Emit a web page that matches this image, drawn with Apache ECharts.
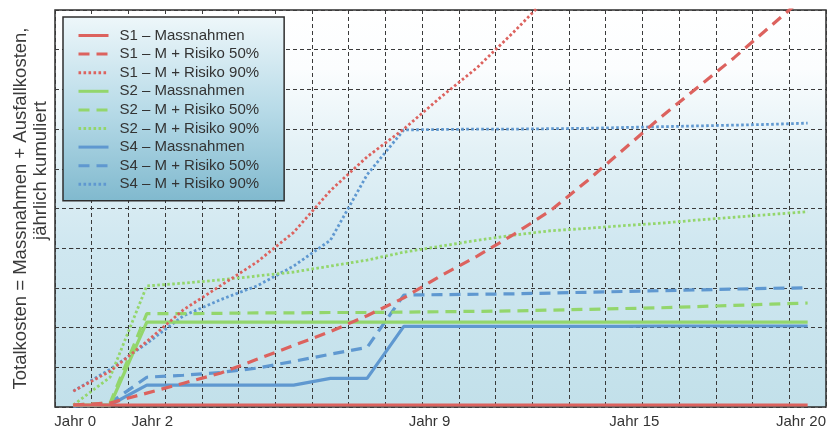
<!DOCTYPE html>
<html>
<head>
<meta charset="utf-8">
<script src="https://cdn.jsdelivr.net/npm/echarts@6/dist/echarts.min.js"></script>
<style>
html,body{margin:0;padding:0;background:#ffffff;}
#chart{width:831px;height:433px;}
</style>
</head>
<body>
<div id="chart"></div>
<script>
// Categories: years 0..20
const years = ['0','1','2','3','4','5','6','7','8','9','10','11','12','13','14','15','16','17','18','19','20'];

// Tick labels and the year positions where they are printed
const tickLabels = ['Jahr 0', 'Jahr 2', 'Jahr 9', 'Jahr 15', 'Jahr 20'];
const tickLabelAt = [0.05, 2.15, 9.7, 15.28, 19.82];

// Series values (grid units, 10 divisions)
const s1Massnahmen = [0.05,0.05,0.05,0.05,0.05,0.05,0.05,0.05,0.05,0.05,0.05,0.05,0.05,0.05,0.05,0.05,0.05,0.05,0.05,0.05,0.05];
const s1Risiko50   = [0.05,0.1,0.35,0.6,0.85,1.2,1.55,1.9,2.3,2.75,3.3,3.8,4.35,4.95,5.7,6.5,7.3,8.05,8.8,9.6,10.4];
const s1Risiko90   = [0.4,0.9,1.65,2.45,3.05,3.65,4.4,5.45,6.3,7.0,7.8,8.55,9.45,10.4];
const s2Massnahmen = [0.05,0.05,2.14,2.14,2.14,2.14,2.14,2.14,2.14,2.14,2.14,2.14,2.14,2.14,2.14,2.14,2.14,2.14,2.14,2.14,2.14];
const s2Risiko50   = [0.05,0.1,2.35,2.35,2.36,2.37,2.37,2.38,2.38,2.39,2.4,2.41,2.42,2.44,2.46,2.48,2.5,2.53,2.56,2.59,2.62];
const s2Risiko90   = [0.05,0.75,3.05,3.12,3.2,3.3,3.4,3.55,3.7,3.9,4.05,4.2,4.33,4.44,4.5,4.57,4.63,4.71,4.78,4.85,4.92];
const s4Massnahmen = [0.03,0.05,0.55,0.55,0.55,0.55,0.55,0.72,0.72,2.03,2.03,2.03,2.03,2.03,2.03,2.03,2.04,2.04,2.04,2.04,2.04];
const s4Risiko50   = [0.03,0.1,0.75,0.8,0.87,0.98,1.15,1.33,1.5,2.82,2.83,2.84,2.85,2.87,2.89,2.91,2.93,2.95,2.97,2.99,3.0];
const s4Risiko90   = [0.4,0.95,1.6,2.3,2.7,3.05,3.55,4.2,5.85,6.98,6.99,7.0,7.0,7.01,7.02,7.04,7.06,7.08,7.1,7.12,7.15];

const seriesNames = [
  'S1 – Massnahmen','S1 – M + Risiko 50%','S1 – M + Risiko 90%',
  'S2 – Massnahmen','S2 – M + Risiko 50%','S2 – M + Risiko 90%',
  'S4 – Massnahmen','S4 – M + Risiko 50%','S4 – M + Risiko 90%'
];

const RED = '#dc625e', GREEN = '#93d66c', BLUE = '#5f98d0';
const DASH = [11, 7], DOT = [2.6, 2.4];
const FONT = 'Liberation Sans, Arial, Helvetica, sans-serif';

function mk(name, data, color, type, width) {
  return {
    name: name, type: 'line', data: data, xAxisIndex: 0, yAxisIndex: 0,
    symbol: 'none', showSymbol: false, silent: true, clip: true,
    lineStyle: { color: color, type: type, width: width, cap: 'butt' },
    itemStyle: { color: color }
  };
}

const series = [
  mk(seriesNames[8], s4Risiko90, BLUE, DOT, 2.8),
  mk(seriesNames[7], s4Risiko50, BLUE, DASH, 3.2),
  mk(seriesNames[6], s4Massnahmen, BLUE, 'solid', 3.2),
  mk(seriesNames[5], s2Risiko90, GREEN, DOT, 2.8),
  mk(seriesNames[4], s2Risiko50, GREEN, DASH, 3.2),
  mk(seriesNames[3], s2Massnahmen, GREEN, 'solid', 3.2),
  mk(seriesNames[2], s1Risiko90, RED, DOT, 2.8),
  mk(seriesNames[1], s1Risiko50, RED, DASH, 3.2),
  mk(seriesNames[0], s1Massnahmen, RED, 'solid', 3.2)
];

const chart = echarts.init(document.getElementById('chart'), null, { renderer: 'canvas' });
chart.setOption({
  animation: false,
  backgroundColor: '#ffffff',
  textStyle: { fontFamily: FONT },
  grid: {
    left: 55, right: 5, top: 10, bottom: 26, show: true,
    borderColor: '#2e2e2e', borderWidth: 1.5,
    backgroundColor: new echarts.graphic.LinearGradient(0, 0, 0, 1, [
      { offset: 0, color: '#ffffff' },
      { offset: 0.15, color: '#fbfdfe' },
      { offset: 0.35, color: '#e3f1f6' },
      { offset: 0.6, color: '#cfe7f0' },
      { offset: 1, color: '#c2e0ea' }
    ])
  },
  legend: {
    data: seriesNames,
    orient: 'vertical', left: 63, top: 17,
    padding: [11, 25, 9, 14],
    itemWidth: 30, itemHeight: 14, itemGap: 3.6,
    selectedMode: false,
    itemStyle: { color: 'rgba(0,0,0,0)', borderWidth: 0, opacity: 0 },
    lineStyle: { width: 3 },
    backgroundColor: new echarts.graphic.LinearGradient(0, 0, 0, 1, [
      { offset: 0, color: '#eef7fa' },
      { offset: 0.5, color: '#b8dbe8' },
      { offset: 1, color: '#80b9ce' }
    ]),
    borderColor: '#2e2e2e', borderWidth: 1.5,
    textStyle: { fontSize: 15, color: '#333333', fontFamily: FONT, padding: [0, 0, 0, 6] }
  },
  xAxis: [
    {
      type: 'category', data: years, boundaryGap: true,
      axisLine: { show: false }, axisTick: { show: false }, axisLabel: { show: false },
      splitLine: { show: true, interval: 0, lineStyle: { type: [4, 3], color: '#3a3a3a', width: 1 } }
    },
    {
      type: 'value', min: -0.5, max: 20.5, position: 'bottom',
      axisLine: { show: false }, axisTick: { show: false }, splitLine: { show: false },
      axisLabel: {
        customValues: tickLabelAt,
        formatter: function (v) {
          let best = 0;
          for (let i = 0; i < tickLabelAt.length; i++) {
            if (Math.abs(tickLabelAt[i] - v) < Math.abs(tickLabelAt[best] - v)) best = i;
          }
          return tickLabels[best];
        },
        fontSize: 15, color: '#333333', margin: 7, fontFamily: FONT
      }
    }
  ],
  yAxis: {
    type: 'value', min: 0, max: 10, interval: 1,
    axisLine: { show: false },
    axisTick: { show: true, length: 4, lineStyle: { color: '#333333' } },
    axisLabel: { show: false },
    splitLine: { show: true, lineStyle: { type: [4, 3], color: '#3a3a3a', width: 1 } },
    name: '{a|Totalkosten = Massnahmen + Ausfallkosten,}\n{b|jährlich kumuliert}',
    nameLocation: 'middle', nameRotate: 90, nameGap: 4,
    nameTextStyle: {
      fontFamily: FONT, color: '#3a3a3a',
      rich: {
        a: { fontSize: 18.5, lineHeight: 20, color: '#3a3a3a', fontFamily: FONT },
        b: { fontSize: 18.5, lineHeight: 20, color: '#3a3a3a', fontFamily: FONT, padding: [0, 0, 0, 76] }
      }
    }
  },
  series: series
});
</script>
</body>
</html>
